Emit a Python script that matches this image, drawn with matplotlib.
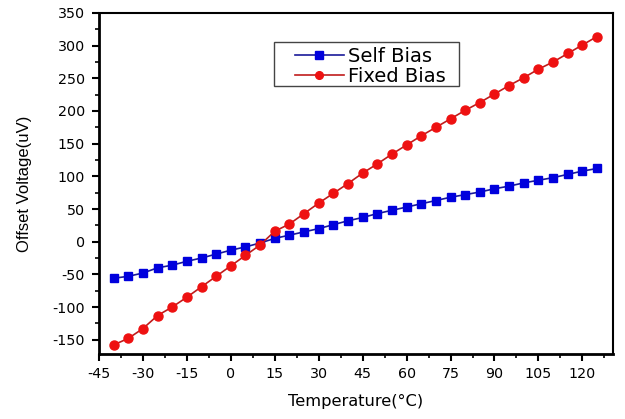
import matplotlib
matplotlib.use("Agg")
import matplotlib.pyplot as plt
from matplotlib.patches import Rectangle
from matplotlib.ticker import MultipleLocator

# temperature points (°C)
temperature = list(range(-40, 130, 5))

# offset voltage (uV)
self_bias = [-56, -53, -48, -40, -36, -30, -25, -19, -13, -8, -2, 5, 10, 15, 20,
             26, 32, 37, 43, 48, 53, 58, 63, 68, 72, 76, 81, 85, 90, 94, 98,
             103, 108, 112]
fixed_bias = [-158, -148, -133, -113, -100, -85, -69, -53, -37, -21, -5, 16,
              27, 43, 59, 74, 89, 105, 119, 134, 148, 162, 175, 188, 201, 213,
              226, 239, 251, 264, 275, 288, 301, 314]

x_ticks = list(range(-45, 121, 15))
y_ticks = list(range(-150, 351, 50))

# the source image is stretched sideways, so horizontal text uses the wider DejaVu
plt.rcParams["font.family"] = ["DejaVu Sans"]
plt.rcParams["axes.unicode_minus"] = False

fig = plt.figure(figsize=(6.25, 4.19), dpi=100)
ax = fig.add_axes([0.1584, 0.155, 0.8226, 0.814])

ax.plot(temperature, self_bias, color="#1a1a99", lw=1.2, marker="s",
        markersize=6, markerfacecolor="#0000dd", markeredgecolor="#0000dd",
        label="Self Bias")
ax.plot(temperature, fixed_bias, color="#c01c1c", lw=1.2, marker="o",
        markersize=6.5, markerfacecolor="#ee1111", markeredgecolor="#ee1111",
        label="Fixed Bias")

ax.set_xlim(-45, 130.5)
ax.set_ylim(-172, 350)
ax.set_xticks(x_ticks)
ax.set_yticks(y_ticks)
ax.xaxis.set_minor_locator(MultipleLocator(7.5))
ax.yaxis.set_minor_locator(MultipleLocator(25))
ax.tick_params(which="major", direction="out", length=5, width=1.5,
               labelsize=10.3)
ax.tick_params(axis="x", which="major", pad=4)
ax.tick_params(axis="y", which="major", pad=5)
ax.tick_params(which="minor", direction="out", length=3, width=1.2)
for side in ["left", "bottom"]:
    ax.spines[side].set_linewidth(2)
for side in ["top", "right"]:
    ax.spines[side].set_linewidth(1.5)

ax.set_xlabel("Temperature(°C)", fontsize=11.7, labelpad=10)
ax.set_ylabel("Offset Voltage(uV)", fontsize=12, labelpad=15,
              family=["Liberation Sans", "DejaVu Sans"])

# legend without its own frame; the box is drawn separately (wide side padding)
leg = ax.legend(loc="upper left", bbox_to_anchor=(295 / 625, 1 - 47 / 419),
                bbox_transform=fig.transFigure, borderaxespad=0, borderpad=0,
                fontsize=14, frameon=False, handlelength=2.5,
                labelspacing=0.06, handletextpad=0.25, markerscale=0.85)
fig.patches.append(Rectangle((274 / 625, 1 - 86 / 419), 185 / 625, 44 / 419,
                             transform=fig.transFigure, fill=False,
                             edgecolor="#444444", linewidth=1, zorder=5))

fig.savefig("out.png", dpi=100)
